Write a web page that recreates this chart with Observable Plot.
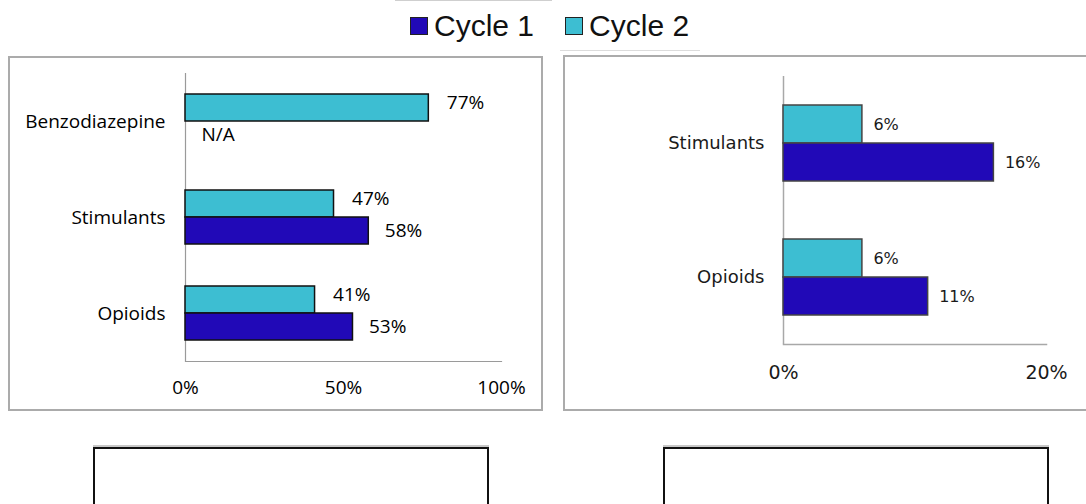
<!DOCTYPE html>
<html>
<head>
<meta charset="utf-8">
<script src="https://cdn.jsdelivr.net/npm/d3@7"></script>
<script src="https://cdn.jsdelivr.net/npm/@observablehq/plot@0.6"></script>
<style>
  html, body { margin: 0; padding: 0; background: #fff; }
  #page { position: relative; width: 1086px; height: 504px; overflow: hidden; background: #fff; }
  .abs { position: absolute; }
  .panel { position: absolute; box-sizing: border-box; border: 2px solid #ababab; background: #fff; }
  .blank { position: absolute; box-sizing: border-box; border: 2px solid #111; box-shadow: 0 -2px 0 #c8c8c8; background: #fff; }
  #legend { position: absolute; left: 410px; top: 9px; display: flex; align-items: center;
            font-family: "Liberation Sans", Arial, sans-serif; font-size: 30px; color: #111; white-space: nowrap; }
  #legend .sw { display: inline-block; width: 16px; height: 16px; border: 1px solid #222; margin-right: 6px; }
  #legend .item { display: flex; align-items: center; margin-right: 31px; }
</style>
</head>
<body>
<div id="page">
  <div class="abs" style="left:395px;top:0px;width:157px;height:1px;background:#cfcfcf"></div>
  <div class="abs" style="left:560px;top:50px;width:140px;height:1px;background:#dcdcdc"></div>
  <div id="legend"></div>
  <div class="panel" style="left:8px;top:56px;width:535px;height:355px"></div>
  <div class="panel" style="left:563px;top:55px;width:540px;height:356px"></div>
  <div id="leftChart" class="abs" style="left:0;top:0"></div>
  <div id="rightChart" class="abs" style="left:563px;top:0"></div>
  <div class="blank" style="left:93px;top:447px;width:396px;height:80px"></div>
  <div class="blank" style="left:663px;top:447px;width:386px;height:80px"></div>
</div>
<script>
// ---- Data ----
const series = ["Cycle 1", "Cycle 2"];
const seriesColors = ["#2109B7", "#3DBED2"];

const leftCategories = ["Benzodiazepine", "Stimulants", "Opioids"];
const leftCycle1 = [null, 58, 53];   // null = N/A
const leftCycle2 = [77, 47, 41];
const leftTicks = [0, 50, 100];

const rightCategories = ["Stimulants", "Opioids"];
const rightCycle1 = [16, 11];
const rightCycle2 = [6, 6];
const rightTicks = [0, 20];

// ---- Build tables ----
function buildRows(cats, c1, c2) {
  const rows = [];
  cats.forEach((c, i) => {
    rows.push({category: c, cycle: "Cycle 2", value: c2[i]});
    rows.push({category: c, cycle: "Cycle 1", value: c1[i]});
  });
  return rows;
}
const leftRows = buildRows(leftCategories, leftCycle1, leftCycle2);
const rightRows = buildRows(rightCategories, rightCycle1, rightCycle2);
const pct = d => d + "%";
const labelText = d => d.value == null ? "N/A" : d.value + "%";

// ---- Legend ----
const legend = document.getElementById("legend");
series.forEach((s, i) => {
  const item = document.createElement("div");
  item.className = "item";
  const sw = document.createElement("span");
  sw.className = "sw";
  sw.style.background = seriesColors[i];
  const t = document.createElement("span");
  t.textContent = s;
  item.appendChild(sw); item.appendChild(t);
  legend.appendChild(item);
});

// ---- Left chart ----
const left = Plot.plot({
  width: 543, height: 420,
  marginLeft: 185, marginRight: 42, marginTop: 72, marginBottom: 59,
  style: {fontFamily: "'Open Sans', sans-serif", fontSize: "19px", color: "#000", background: "transparent", overflow: "visible"},
  fy: {domain: leftCategories, padding: 0},
  y: {domain: ["Cycle 2", "Cycle 1"], paddingInner: 0, paddingOuter: 0.75, axis: null},
  x: {domain: [0, 100]},
  color: {domain: series, range: seriesColors},
  marks: [
    Plot.ruleX([0], {stroke: "#9a9a9a", strokeWidth: 1.2}),
    Plot.frame({anchor: "bottom", facetAnchor: "bottom", stroke: "#9a9a9a", strokeWidth: 1.2}),
    Plot.barX(leftRows.filter(d => d.value != null), {fy: "category", y: "cycle", x1: 0, x2: "value", fill: "cycle", stroke: "#111", strokeWidth: 1.5}),
    Plot.text(leftRows.filter(d => d.cycle === "Cycle 2"), {fy: "category", y: "cycle", x: d => d.value ?? 0, text: labelText, textAnchor: "start", dx: 18, dy: -5, fill: "#000", fontSize: 19}),
    Plot.text(leftRows.filter(d => d.cycle === "Cycle 1"), {fy: "category", y: "cycle", x: d => d.value ?? 0, text: labelText, textAnchor: "start", dx: 16, dy: 0, fill: "#000", fontSize: 19}),
    Plot.axisX({ticks: leftTicks, tickFormat: pct, tickSize: 0, tickPadding: 19, fontSize: 19, label: null}),
    Plot.axisFy({anchor: "left", tickSize: 0, tickPadding: 20, fontSize: 19, label: null})
  ]
});
document.getElementById("leftChart").appendChild(left);

// ---- Right chart ----
const right = Plot.plot({
  width: 523, height: 420,
  marginLeft: 220, marginRight: 40, marginTop: 75, marginBottom: 76,
  style: {fontFamily: "'DejaVu Sans', sans-serif", fontSize: "16px", color: "#1a1a1a", background: "transparent", overflow: "visible"},
  fy: {domain: rightCategories, padding: 0},
  y: {domain: ["Cycle 2", "Cycle 1"], paddingInner: 0, paddingOuter: 0.74, axis: null},
  x: {domain: [0, 20]},
  color: {domain: series, range: seriesColors},
  marks: [
    Plot.ruleX([0], {stroke: "#a8a8a8", strokeWidth: 1.5}),
    Plot.frame({anchor: "bottom", facetAnchor: "bottom", stroke: "#a8a8a8", strokeWidth: 1.5}),
    Plot.barX(rightRows, {fy: "category", y: "cycle", x1: 0, x2: "value", fill: "cycle", stroke: "#444", strokeWidth: 1.5}),
    Plot.text(rightRows, {fy: "category", y: "cycle", x: "value", text: labelText, textAnchor: "start", dx: 11, dy: 0, fill: "#1a1a1a", fontSize: 16}),
    Plot.axisX({ticks: rightTicks, tickFormat: pct, tickSize: 0, tickPadding: 21, fontSize: 19, label: null}),
    Plot.axisFy({anchor: "left", tickSize: 0, tickPadding: 19, fontSize: 18, label: null})
  ]
});
document.getElementById("rightChart").appendChild(right);
</script>
</body>
</html>
